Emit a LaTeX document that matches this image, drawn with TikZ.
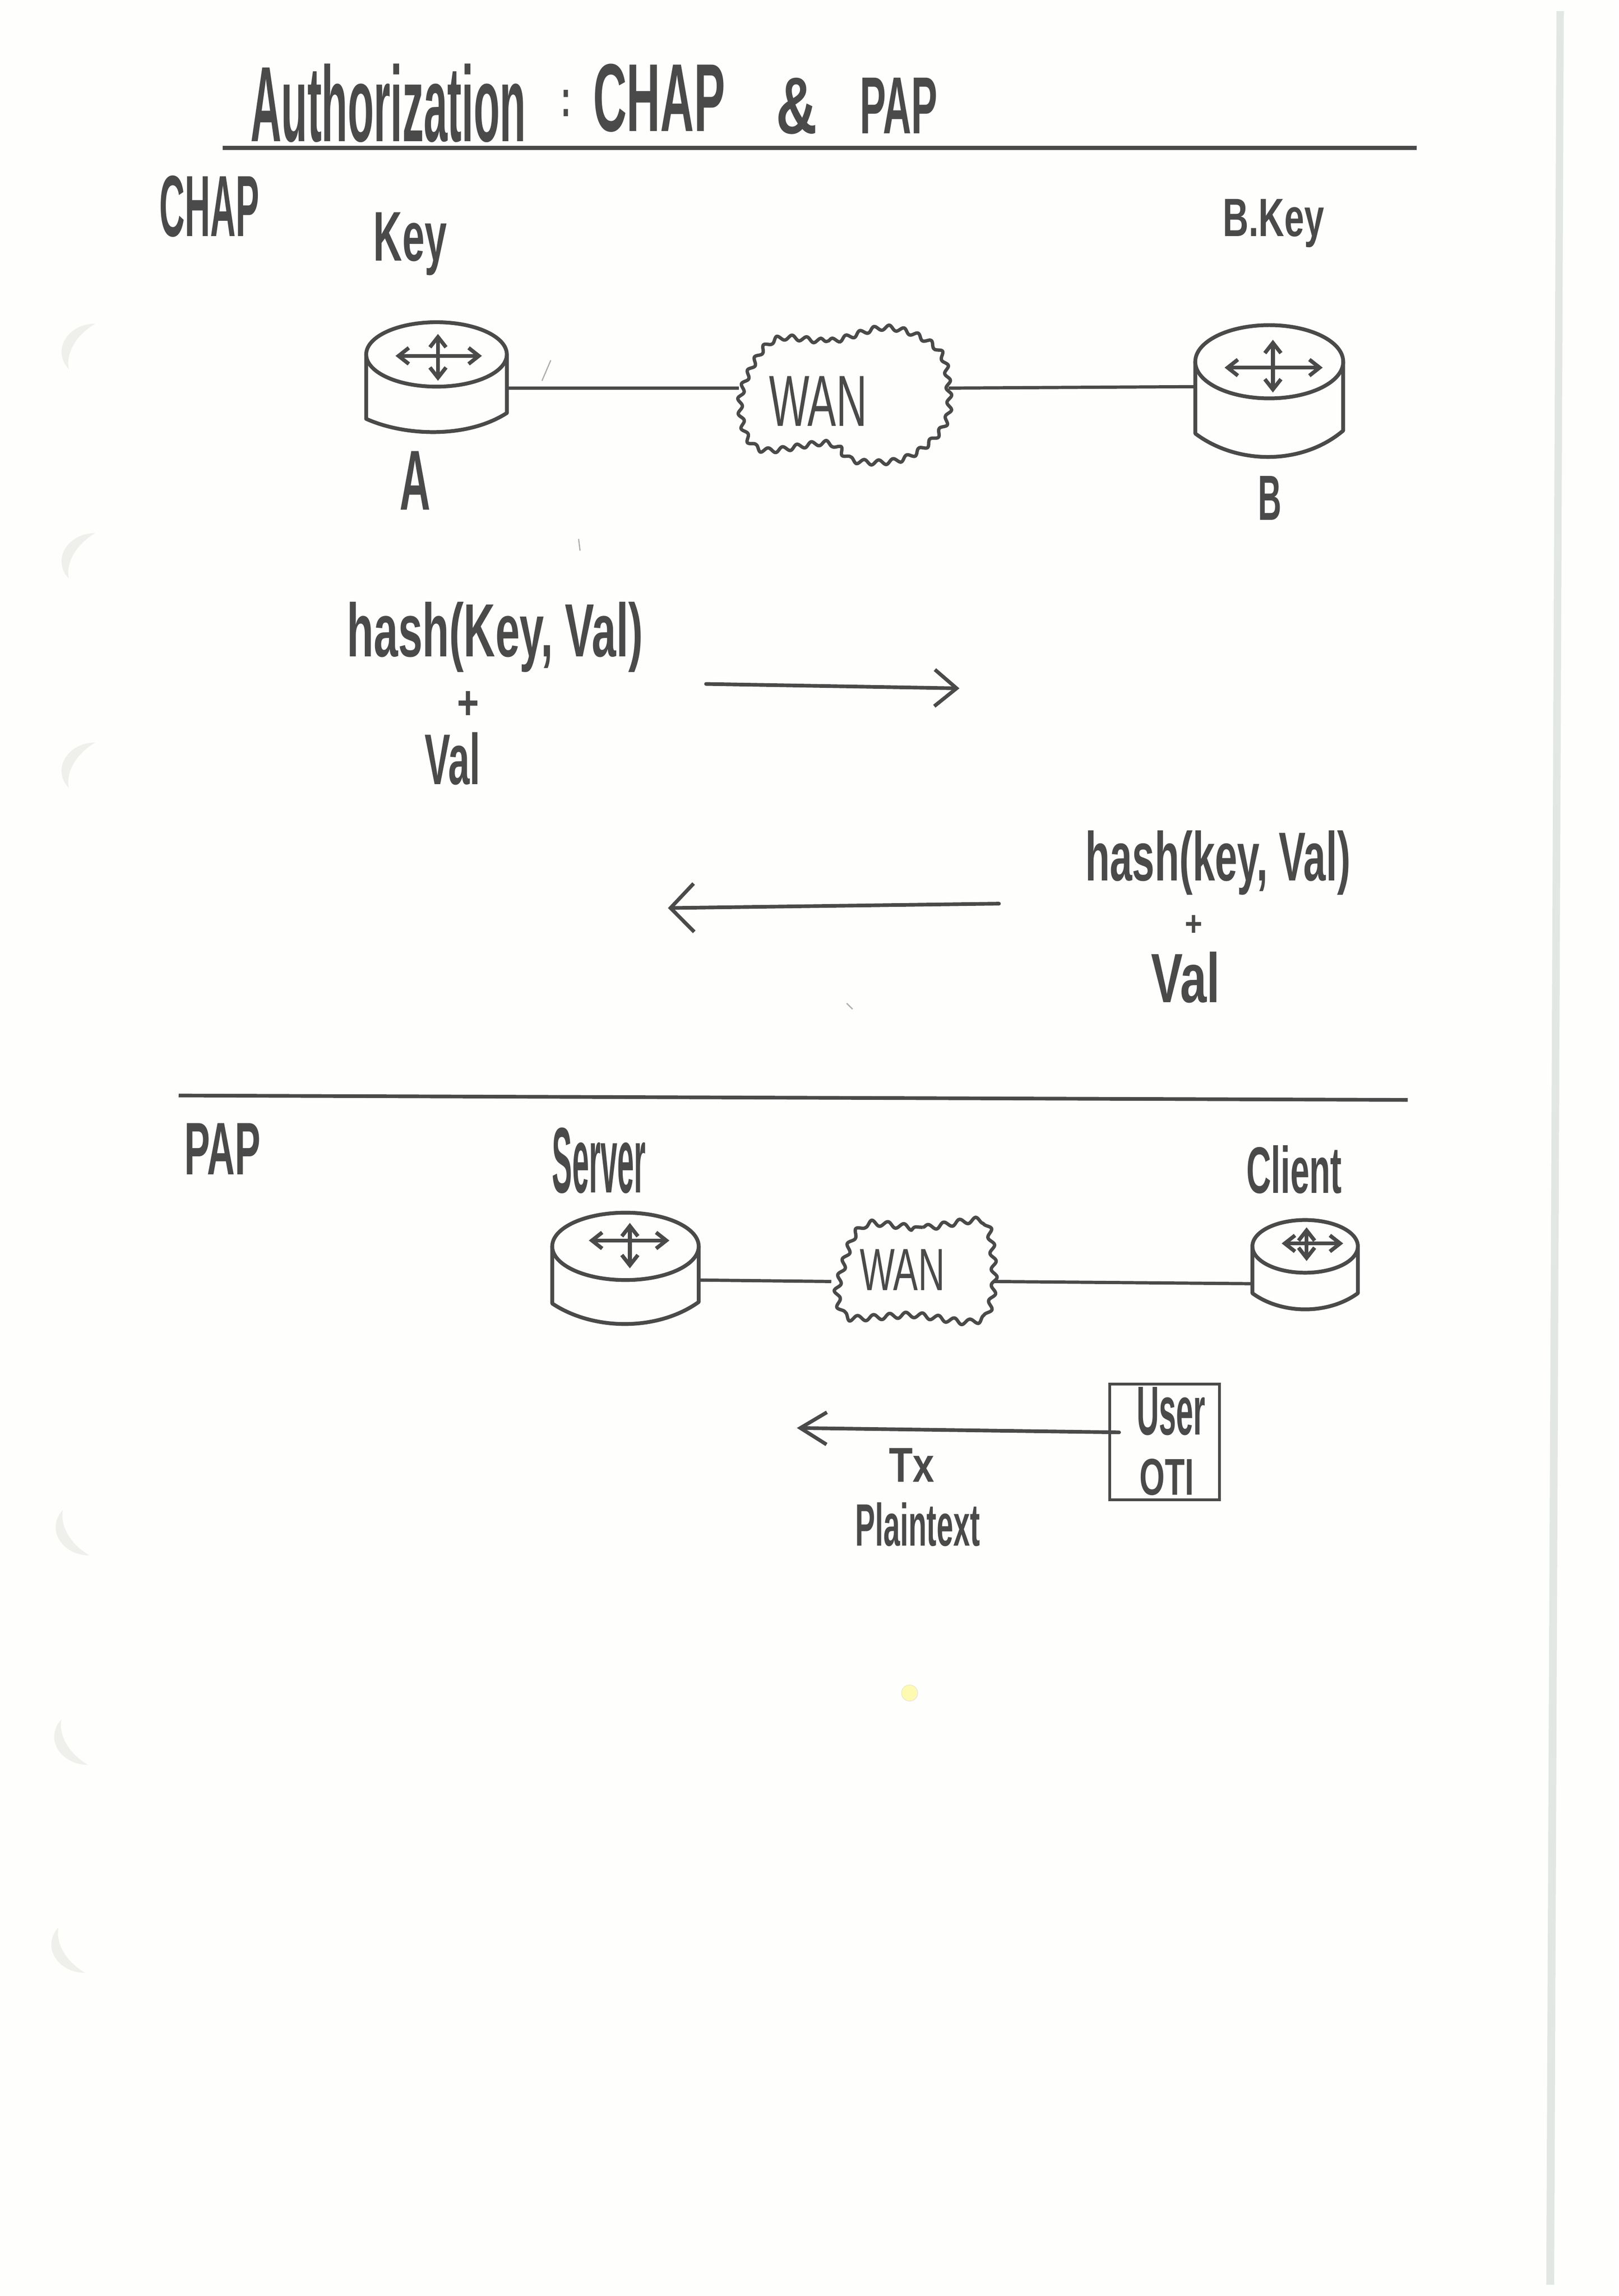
\documentclass[tikz,border=0pt]{standalone}
\usepackage{graphicx}
\usepackage{fontspec}
\usetikzlibrary{arrows.meta,decorations.pathmorphing}
\newfontfamily\handbold{Liberation Sans Bold}
\newfontfamily\handthin{Liberation Sans}
\definecolor{ink}{HTML}{4A4A4A}
\definecolor{paper}{HTML}{FEFEFD}
\definecolor{holec}{HTML}{EFF0EB}
\definecolor{edgec}{HTML}{E3E7E3}
\tikzset{
  lbl/.style={inner sep=0pt,outer sep=0pt,text=ink,font=\fontsize{40}{48}\selectfont\handbold},
  thinlbl/.style={lbl,font=\fontsize{40}{48}\selectfont\handthin},
  port/.style={inner sep=0pt,outer sep=0pt,minimum height=4pt},
  rtr/.style={draw=ink,line width=2.6pt,line cap=round,line join=round},
  crossa/.style={draw=ink,line width=2.6pt,-{Straight Barb[length=7pt,width=11pt]}},
  conn/.style={draw=ink,line width=2.2pt},
  rulel/.style={draw=ink,line width=2.8pt},
  arr/.style={draw=ink,line width=2.5pt,line cap=round},
  cloudl/.style={draw=ink,line width=2.3pt,line join=round,decorate,decoration={snake,segment length=10pt,amplitude=1.7pt}},
  userb/.style={draw=ink,line width=2pt,inner sep=0pt,outer sep=0pt,minimum width=75pt,minimum height=79pt},
  holes/.style={fill=holec,draw=none},
  speck/.style={draw=ink!45,line width=.8pt}
}
\newcommand\hw[7][lbl]{%
  \pgfmathsetmacro\lblw{#5-#3}\pgfmathsetmacro\lblh{#6-#4}%
  \node[#1] (#2) at ({(#3+#5)/2},{(#4+#6)/2}) {\resizebox*{\lblw pt}{\lblh pt}{#7}};}
\newcommand\rtrshape[7]{%
  \pgfmathsetmacro\rcx{(#1+#2)/2}\pgfmathsetmacro\rrx{(#2-#1)/2}%
  \pgfmathsetmacro\rcy{(#3+#4)/2}\pgfmathsetmacro\rry{(#4-#3)/2}%
  \pgfmathsetmacro\ctlL{(#7-.25*#5)/.75}\pgfmathsetmacro\ctlR{(#7-.25*#6)/.75}%
  \pgfmathsetmacro\qa{#1+.28*(#2-#1)}\pgfmathsetmacro\qb{#1+.72*(#2-#1)}%
  \draw[rtr] (\rcx,\rcy) ellipse [x radius=\rrx,y radius=\rry];
  \draw[rtr] (#1,\rcy) -- (#1,#5) .. controls (\qa,\ctlL) and (\qb,\ctlR) .. (#2,#6) -- (#2,\rcy);}
\newcommand\rtrcross[6]{%
  \draw[crossa] (#1,#2) -- (#3,#2);
  \draw[crossa] (#1,#2) -- (#4,#2);
  \draw[crossa] (#1,#2) -- (#1,#5);
  \draw[crossa] (#1,#2) -- (#1,#6);}
\newcommand\holeup[2]{%
  \fill[holes,shift={(#1,#2)}] (23,0) .. controls (9,0) and (0,10) .. (0,19) .. controls (0,24) and (2,28) .. (5,31) .. controls (3,22) and (8,9) .. cycle;}
\newcommand\holedn[2]{%
  \fill[holes,shift={(#1,#2)},yscale=-1] (23,0) .. controls (9,0) and (0,10) .. (0,19) .. controls (0,24) and (2,28) .. (5,31) .. controls (3,22) and (8,9) .. cycle;}
\begin{document}
\begin{tikzpicture}[x=1pt,y=-1pt]
\useasboundingbox (0,0) rectangle (1105,1567.7);
\fill[paper] (0,0) rectangle (1105,1567.7);
% sheet edge and punch holes
\fill[edgec] (1062.6,7.6) -- (1067.6,7.6) -- (1061,1560) -- (1055.6,1560) -- cycle;
\holeup{42}{221}\holeup{42}{364}\holeup{42}{507}
\holedn{38}{1062}\holedn{37}{1205}\holedn{35}{1347}
\fill[yellow!30!paper,draw=yellow!40!ink!25] (621,1156) circle [radius=5.5];
\draw[speck] (370,260) -- (376,246);
\draw[speck] (395,368) -- (396,376);
\draw[speck] (578,685) -- (582,689);
% title
\node[lbl,anchor=west] (title) at (171,70.5) {%
  \resizebox{188pt}{53pt}{Authorization}\hspace{24pt}%
  \raisebox{17pt}{\resizebox{7pt}{18pt}{:}}\hspace{15pt}%
  \raisebox{7pt}{\resizebox{90pt}{46pt}{CHAP}}\hspace{35pt}%
  \raisebox{5.5pt}{\resizebox{28pt}{38pt}{\&}}\hspace{29pt}%
  \raisebox{5.5pt}{\resizebox{53pt}{38pt}{PAP}}};
\coordinate (ruleAa) at (152,101);
\coordinate (ruleAb) at (967,101);
\draw[rulel] (ruleAa) -- (ruleAb);
\coordinate (ruleBa) at (122,748);
\coordinate (ruleBb) at (961,751);
\draw[rulel,line width=2.5pt] (ruleBa) -- (ruleBb);
% CHAP section
\hw{chapl}{109}{120}{177}{162}{CHAP}
\hw{keyl}{255}{145}{305}{188}{Key}
\hw{bkeyl}{835}{136}{904}{169}{B.Key}
\rtrshape{250}{346}{220}{264}{286}{282}{295}
\rtrcross{299}{243}{270}{329}{228}{260}
\rtrshape{816}{917}{222}{272}{296}{294}{312}
\rtrcross{869}{251}{836}{903}{232}{268}
\node[port,minimum width=97pt] (routerA) at (298,265) {};
\node[port,minimum width=102pt] (routerB) at (867,264) {};
\node[port,minimum width=143pt] (wanA) at (576,265) {};
\draw[cloudl] plot[smooth cycle,tension=.6] coordinates {(528,232) (565,233) (604,224) (637,238) (645,264) (642,291) (616,313) (581,315) (563,303) (516,307) (503,280) (510,253)};
\hw[thinlbl]{wanAl}{525}{257}{592}{291}{WAN}
\draw[conn] (routerA.east) -- (wanA.west);
\draw[conn] (wanA.east) -- (routerB.west);
\hw{al}{273}{308}{294}{348}{A}
\hw{bl}{859}{325}{875}{355}{B}
\hw{hashA}{237}{411}{439}{459}{hash(Key, Val)}
\hw{plusA}{312}{472}{327}{491}{+}
\hw{valA}{290}{500}{328}{536}{Val}
\coordinate (arAa) at (482,467);
\coordinate (arAb) at (655,470);
\draw[arr,-{Straight Barb[length=15pt,width=25pt]}] (arAa) -- (arAb);
\hw{hashB}{741}{567}{922}{611}{hash(key, Val)}
\hw{plusB}{809}{625}{821}{639}{+}
\hw{valB}{786}{650}{833}{685}{Val}
\coordinate (arBa) at (682,617);
\coordinate (arBb) at (456,620);
\draw[arr,-{Straight Barb[length=16pt,width=33pt]}] (arBa) -- (arBb);
% PAP section
\hw{papl}{126}{767}{178}{802}{PAP}
\hw{serverl}{377}{770}{441}{815}{Server}
\hw{clientl}{851}{782}{916}{815}{Client}
\rtrshape{377}{477}{828}{874}{890}{889}{904}
\rtrcross{430}{847}{402}{457}{835}{866}
\rtrshape{855}{927}{833}{869}{883}{883}{894}
\rtrcross{892}{849}{875}{917}{838}{861}
\node[port,minimum width=100pt] (server) at (427,874) {};
\node[port,minimum width=72pt] (client) at (891,876.5) {};
\node[port,minimum width=111pt] (wanB) at (623,875) {};
\draw[cloudl,decoration={snake,segment length=11pt,amplitude=1.9pt}] plot[smooth cycle,tension=.35] coordinates {(590,834) (630,838) (669,834) (675,873) (670,897) (656,901) (620,896) (575,898) (568,880) (578,845)};
\hw[thinlbl]{wanBl}{587}{853}{645}{881}{WAN}
\draw[conn] (server.east) -- (wanB.west);
\draw[conn] (wanB.east) -- (client.west);
\node[userb] (userbox) at (795,984.5) {};
\hw{userl}{776}{947}{823}{980}{User}
\hw{otil}{778}{996}{815}{1021}{OTI}
\coordinate (arCa) at (764,978);
\coordinate (arCb) at (544,975);
\draw[arr,-{Straight Barb[length=18pt,width=22pt]}] (arCa) -- (arCb);
\hw{txl}{607}{989}{638}{1012}{Tx}
\hw{plainl}{584}{1026}{669}{1056}{Plaintext}
\end{tikzpicture}
\end{document}
